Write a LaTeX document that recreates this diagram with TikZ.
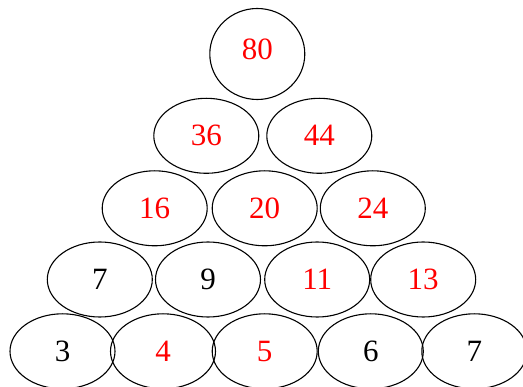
\documentclass[tikz,border=0pt]{standalone}
\usepackage{fontspec}
\setmainfont{Liberation Serif}
\usetikzlibrary{shapes.geometric}
\begin{document}
\begin{tikzpicture}[x=1pt,y=-1pt,
  cell/.style={draw, ellipse, line width=1.1pt, inner sep=0pt,
    minimum width=105pt, minimum height=75pt, font=\fontsize{31}{36}\selectfont},
  given/.style={cell},
  found/.style={cell, text=red}]
\useasboundingbox (0,0) rectangle (523,387);
\node[found, minimum width=95pt, minimum height=91pt] (top) at (257.3,54) {\raisebox{4.5pt}[\height][\depth]{80}};
\node[found] (left2) at (206.3,135.8) {36};
\node[found] (right2) at (319.3,135.8) {44};
\node[found] (left3) at (154.7,208.3) {16};
\node[found] (mid3) at (264.7,208.3) {20};
\node[found] (right3) at (372.8,208.3) {24};
\node[given] (first4) at (99.8,279.5) {7};
\node[given] (second4) at (208,279.5) {9};
\node[found] (third4) at (317.2,279.5) {11};
\node[found] (fourth4) at (423.2,279.5) {13};
\node[given] (first5) at (62.5,351.3) {3};
\node[found] (second5) at (163,351.3) {4};
\node[found] (third5) at (264.7,351.3) {5};
\node[given] (fourth5) at (370.8,351.3) {6};
\node[given] (fifth5) at (474.3,351.3) {7};
\end{tikzpicture}
\end{document}
